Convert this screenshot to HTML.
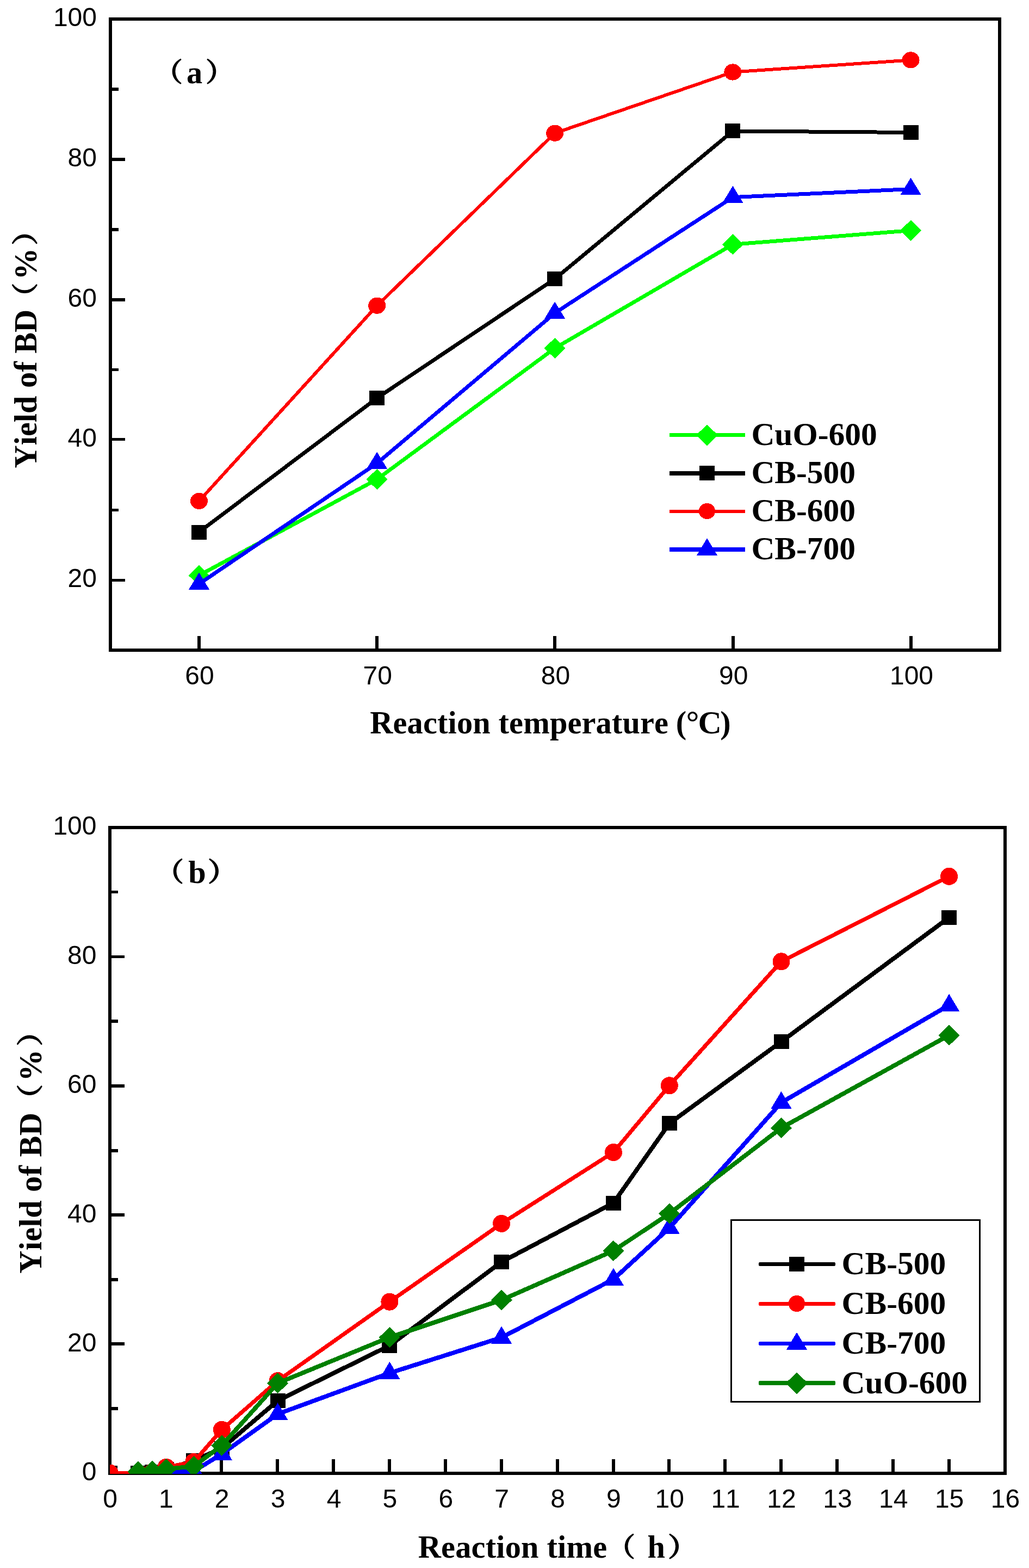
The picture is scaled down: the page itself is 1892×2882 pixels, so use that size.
<!DOCTYPE html>
<html lang="en">
<head>
<meta charset="utf-8">
<title>Yield of BD vs reaction temperature and reaction time</title>
<style>
html,body{margin:0;padding:0;background:#fff;}
body{width:1892px;height:2882px;overflow:hidden;}
svg{display:block;}
text{fill:#000;}
.tick{font-family:"Liberation Sans",sans-serif;font-size:48px;font-kerning:none;}
.ttl{font-family:"Liberation Serif",serif;font-weight:bold;font-size:58.33px;font-kerning:none;font-variant-ligatures:none;}
.leg{font-family:"Liberation Serif",serif;font-weight:bold;font-size:59.5px;font-kerning:none;}
.fw{font-family:"Noto Serif CJK SC","Liberation Serif",serif;font-weight:600;font-size:48.3px;letter-spacing:0;stroke:#000;stroke-width:1.3px;stroke-linejoin:round;}
.deg{font-size:60px;}
</style>
</head>
<body>
<svg width="1892" height="2882" viewBox="0 0 1892 2882">
<rect width="1892" height="2882" fill="#fff"/>
<g id="chart-a">
<rect x="203" y="35" width="1635" height="1160" fill="none" stroke="#000" stroke-width="6" shape-rendering="crispEdges"/>
<g shape-rendering="crispEdges" fill="#000">
<rect x="203" y="161" width="15" height="6" rx="1"/>
<rect x="203" y="290" width="27" height="6" rx="1"/>
<rect x="203" y="419" width="15" height="6" rx="1"/>
<rect x="203" y="548" width="27" height="6" rx="1"/>
<rect x="203" y="677" width="15" height="5" rx="1"/>
<rect x="203" y="805" width="27" height="5" rx="1"/>
<rect x="203" y="935" width="15" height="5" rx="1"/>
<rect x="203" y="1064" width="27" height="5" rx="1"/>
<rect x="363" y="1169" width="6" height="26" rx="1.5"/>
<rect x="690" y="1169" width="6" height="26" rx="1.5"/>
<rect x="1017" y="1169" width="6" height="26" rx="1.5"/>
<rect x="1345" y="1169" width="6" height="26" rx="1.5"/>
<rect x="1672" y="1169" width="6" height="26" rx="1.5"/>
</g>
<g class="tick" text-anchor="end">
<text x="178" y="1079.1">20</text>
<text x="178" y="821.3">40</text>
<text x="178" y="563.6">60</text>
<text x="178" y="305.8">80</text>
<text x="178" y="48.0">100</text>
</g>
<g class="tick" text-anchor="middle">
<text x="367.0" y="1257.5">60</text>
<text x="694.2" y="1257.5">70</text>
<text x="1021.5" y="1257.5">80</text>
<text x="1348.8" y="1257.5">90</text>
<text x="1676.0" y="1257.5">100</text>
</g>
<g shape-rendering="crispEdges">
<polyline points="366.0,1057.6 693.2,881.0 1020.2,640.0 1347.4,449.3 1674.6,423.6" fill="none" stroke="#00ff00" stroke-width="7" stroke-linejoin="round"/>
<polygon points="346.5,1057.6 366.0,1038.6 385.5,1057.6 366.0,1076.6" fill="#00ff00"/>
<polygon points="673.7,881.0 693.2,862.0 712.7,881.0 693.2,900.0" fill="#00ff00"/>
<polygon points="1000.7,640.0 1020.2,621.0 1039.7,640.0 1020.2,659.0" fill="#00ff00"/>
<polygon points="1327.9,449.3 1347.4,430.3 1366.9,449.3 1347.4,468.3" fill="#00ff00"/>
<polygon points="1655.1,423.6 1674.6,404.6 1694.1,423.6 1674.6,442.6" fill="#00ff00"/>
<polyline points="366.0,978.0 693.2,731.6 1020.2,512.6 1347.4,240.9 1674.6,243.5" fill="none" stroke="#000000" stroke-width="7" stroke-linejoin="round"/>
<rect x="352.0" y="964.5" width="28" height="27" fill="#000000"/>
<rect x="679.2" y="718.1" width="28" height="27" fill="#000000"/>
<rect x="1006.2" y="499.1" width="28" height="27" fill="#000000"/>
<rect x="1333.4" y="227.4" width="28" height="27" fill="#000000"/>
<rect x="1660.6" y="230.0" width="28" height="27" fill="#000000"/>
<polyline points="366.0,920.9 693.2,561.7 1020.2,244.7 1347.4,132.5 1674.6,110.4" fill="none" stroke="#ff0000" stroke-width="6" stroke-linejoin="round"/>
<ellipse cx="366.0" cy="920.9" rx="16" ry="15.1" fill="#ff0000"/>
<ellipse cx="693.2" cy="561.7" rx="16" ry="15.1" fill="#ff0000"/>
<ellipse cx="1020.2" cy="244.7" rx="16" ry="15.1" fill="#ff0000"/>
<ellipse cx="1347.4" cy="132.5" rx="16" ry="15.1" fill="#ff0000"/>
<ellipse cx="1674.6" cy="110.4" rx="16" ry="15.1" fill="#ff0000"/>
<polyline points="366.0,1073.3 693.2,851.5 1020.2,575.4 1347.4,362.6 1674.6,347.5" fill="none" stroke="#0000ff" stroke-width="7" stroke-linejoin="round"/>
<polygon points="347.0,1083.6 366.0,1052.3 385.0,1083.6" fill="#0000ff"/>
<polygon points="674.2,861.8 693.2,830.5 712.2,861.8" fill="#0000ff"/>
<polygon points="1001.2,585.7 1020.2,554.4 1039.2,585.7" fill="#0000ff"/>
<polygon points="1328.4,372.9 1347.4,341.6 1366.4,372.9" fill="#0000ff"/>
<polygon points="1655.6,357.8 1674.6,326.5 1693.6,357.8" fill="#0000ff"/>
</g>
<g shape-rendering="crispEdges">
<rect x="1231" y="796.0" width="139" height="7" rx="1.5" fill="#00ff00"/>
<rect x="1231" y="866.0" width="139" height="8" rx="1.5" fill="#000000"/>
<rect x="1231" y="937.0" width="139" height="6" rx="1.5" fill="#ff0000"/>
<rect x="1231" y="1006.0" width="139" height="8" rx="1.5" fill="#0000ff"/>
<polygon points="1279.7,799.9 1300.0,780.7 1320.3,799.9 1300.0,819.1" fill="#00ff00"/>
<rect x="1286.0" y="856.0" width="28" height="27" fill="#000000"/>
<ellipse cx="1300.0" cy="939.5" rx="15.1" ry="14.5" fill="#ff0000"/>
<polygon points="1280.9,1020.9 1300.0,989.1 1319.1,1020.9" fill="#0000ff"/>
</g>
<g class="leg">
<text x="1381.4" y="818.4">CuO-600</text>
<text x="1381.4" y="888.3">CB-500</text>
<text x="1381.4" y="958.4">CB-600</text>
<text x="1381.4" y="1028.3">CB-700</text>
</g>
<g class="ttl">
<text x="680.3" y="1348" style="letter-spacing:0.15px">Reaction temperature <tspan x="1242.8">(</tspan><tspan class="deg" x="1261.6">°</tspan><tspan class="deg" x="1283.6">C</tspan><tspan x="1324.3">)</tspan></text>
<g transform="translate(67 859.8) rotate(-90)">
<text x="-0.6" y="0">Yield of BD</text>
<text class="fw" transform="translate(287.83 -3.98) scale(1.080 1)">（</text>
<text x="345.5" y="0">%</text>
<text class="fw" transform="translate(408.78 -3.98) scale(1.146 1)">）</text>
</g>
<text class="fw" transform="translate(283.55 148.72) scale(1.086 1)">（</text>
<text x="343" y="152.7">a</text>
<text class="fw" transform="translate(377.98 148.72) scale(1.086 1)">）</text>
</g>
</g>
<g id="chart-b">
<rect x="202" y="1521" width="1646" height="1187" fill="none" stroke="#000" stroke-width="6" shape-rendering="crispEdges"/>
<g shape-rendering="crispEdges" fill="#000">
<rect x="202" y="1637" width="15" height="5" rx="1"/>
<rect x="202" y="1756" width="27" height="5" rx="1"/>
<rect x="202" y="1874" width="15" height="6" rx="1"/>
<rect x="202" y="1993" width="27" height="6" rx="1"/>
<rect x="202" y="2112" width="15" height="6" rx="1"/>
<rect x="202" y="2230" width="27" height="6" rx="1"/>
<rect x="202" y="2349" width="15" height="6" rx="1"/>
<rect x="202" y="2467" width="27" height="6" rx="1"/>
<rect x="202" y="2586" width="15" height="6" rx="1"/>
<rect x="302" y="2682" width="6" height="26" rx="1.5"/>
<rect x="404" y="2682" width="6" height="26" rx="1.5"/>
<rect x="507" y="2682" width="6" height="26" rx="1.5"/>
<rect x="610" y="2682" width="6" height="26" rx="1.5"/>
<rect x="713" y="2682" width="6" height="26" rx="1.5"/>
<rect x="816" y="2682" width="6" height="26" rx="1.5"/>
<rect x="919" y="2682" width="6" height="26" rx="1.5"/>
<rect x="1022" y="2682" width="6" height="26" rx="1.5"/>
<rect x="1125" y="2682" width="6" height="26" rx="1.5"/>
<rect x="1227" y="2682" width="6" height="26" rx="1.5"/>
<rect x="1330" y="2682" width="6" height="26" rx="1.5"/>
<rect x="1433" y="2682" width="6" height="26" rx="1.5"/>
<rect x="1536" y="2682" width="6" height="26" rx="1.5"/>
<rect x="1639" y="2682" width="6" height="26" rx="1.5"/>
<rect x="1742" y="2682" width="6" height="26" rx="1.5"/>
</g>
<g class="tick" text-anchor="end">
<text x="177.5" y="2721.3">0</text>
<text x="177.5" y="2483.9">20</text>
<text x="177.5" y="2246.5">40</text>
<text x="177.5" y="2009.1">60</text>
<text x="177.5" y="1771.7">80</text>
<text x="177.5" y="1534.3">100</text>
</g>
<g class="tick" text-anchor="middle">
<text x="202.5" y="2771">0</text>
<text x="305.4" y="2771">1</text>
<text x="408.2" y="2771">2</text>
<text x="511.1" y="2771">3</text>
<text x="614.0" y="2771">4</text>
<text x="716.9" y="2771">5</text>
<text x="819.8" y="2771">6</text>
<text x="922.6" y="2771">7</text>
<text x="1025.5" y="2771">8</text>
<text x="1128.4" y="2771">9</text>
<text x="1231.2" y="2771">10</text>
<text x="1334.1" y="2771">11</text>
<text x="1437.0" y="2771">12</text>
<text x="1539.9" y="2771">13</text>
<text x="1642.8" y="2771">14</text>
<text x="1745.6" y="2771">15</text>
<text x="1848.5" y="2771">16</text>
</g>
<clipPath id="cb"><rect x="202" y="1521" width="1646" height="1188"/></clipPath>
<g shape-rendering="crispEdges" clip-path="url(#cb)">
<polyline points="202.0,2707.7 254.1,2707.7 279.9,2705.6 305.6,2700.6 356.3,2684.6 407.8,2662.0 510.6,2574.4 716.4,2473.2 922.1,2319.5 1127.9,2211.1 1230.8,2064.8 1436.5,1914.6 1745.1,1686.4" fill="none" stroke="#000000" stroke-width="8" stroke-linejoin="round"/>
<rect x="188.0" y="2694.2" width="28" height="27" fill="#000000"/>
<rect x="240.1" y="2694.2" width="28" height="27" fill="#000000"/>
<rect x="265.9" y="2692.1" width="28" height="27" fill="#000000"/>
<rect x="291.6" y="2687.1" width="28" height="27" fill="#000000"/>
<rect x="342.3" y="2671.1" width="28" height="27" fill="#000000"/>
<rect x="393.8" y="2648.5" width="28" height="27" fill="#000000"/>
<rect x="496.6" y="2560.9" width="28" height="27" fill="#000000"/>
<rect x="702.4" y="2459.7" width="28" height="27" fill="#000000"/>
<rect x="908.1" y="2306.0" width="28" height="27" fill="#000000"/>
<rect x="1113.9" y="2197.6" width="28" height="27" fill="#000000"/>
<rect x="1216.8" y="2051.3" width="28" height="27" fill="#000000"/>
<rect x="1422.5" y="1901.1" width="28" height="27" fill="#000000"/>
<rect x="1731.1" y="1672.9" width="28" height="27" fill="#000000"/>
<polyline points="202.0,2707.5 254.1,2707.5 279.9,2706.0 305.6,2696.8 356.3,2687.0 407.8,2627.8 510.6,2538.0 716.4,2392.7 922.1,2248.9 1127.9,2118.0 1230.8,1995.3 1436.5,1767.3 1745.1,1610.8" fill="none" stroke="#ff0000" stroke-width="7.3" stroke-linejoin="round"/>
<ellipse cx="202.0" cy="2707.5" rx="16" ry="16.0" fill="#ff0000"/>
<ellipse cx="254.1" cy="2707.5" rx="16" ry="16.0" fill="#ff0000"/>
<ellipse cx="279.9" cy="2706.0" rx="16" ry="16.0" fill="#ff0000"/>
<ellipse cx="305.6" cy="2696.8" rx="16" ry="16.0" fill="#ff0000"/>
<ellipse cx="356.3" cy="2687.0" rx="16" ry="16.0" fill="#ff0000"/>
<ellipse cx="407.8" cy="2627.8" rx="16" ry="16.0" fill="#ff0000"/>
<ellipse cx="510.6" cy="2538.0" rx="16" ry="16.0" fill="#ff0000"/>
<ellipse cx="716.4" cy="2392.7" rx="16" ry="16.0" fill="#ff0000"/>
<ellipse cx="922.1" cy="2248.9" rx="16" ry="16.0" fill="#ff0000"/>
<ellipse cx="1127.9" cy="2118.0" rx="16" ry="16.0" fill="#ff0000"/>
<ellipse cx="1230.8" cy="1995.3" rx="16" ry="16.0" fill="#ff0000"/>
<ellipse cx="1436.5" cy="1767.3" rx="16" ry="16.0" fill="#ff0000"/>
<ellipse cx="1745.1" cy="1610.8" rx="16" ry="16.0" fill="#ff0000"/>
<polyline points="254.1,2707.5 279.9,2707.0 305.6,2705.5 356.3,2704.2 407.8,2672.4 510.6,2599.0 716.4,2523.6 922.1,2458.4 1127.9,2351.4 1230.8,2257.0 1436.5,2026.5 1745.1,1847.5" fill="none" stroke="#0000ff" stroke-width="8" stroke-linejoin="round"/>
<polygon points="235.1,2718.8 254.1,2686.8 273.1,2718.8" fill="#0000ff"/>
<polygon points="260.9,2718.3 279.9,2686.3 298.9,2718.3" fill="#0000ff"/>
<polygon points="286.6,2716.8 305.6,2684.8 324.6,2716.8" fill="#0000ff"/>
<polygon points="337.3,2715.5 356.3,2683.5 375.3,2715.5" fill="#0000ff"/>
<polygon points="388.8,2683.7 407.8,2651.7 426.8,2683.7" fill="#0000ff"/>
<polygon points="491.6,2610.3 510.6,2578.3 529.6,2610.3" fill="#0000ff"/>
<polygon points="697.4,2534.9 716.4,2502.9 735.4,2534.9" fill="#0000ff"/>
<polygon points="903.1,2469.7 922.1,2437.7 941.1,2469.7" fill="#0000ff"/>
<polygon points="1108.9,2362.7 1127.9,2330.7 1146.9,2362.7" fill="#0000ff"/>
<polygon points="1211.8,2268.3 1230.8,2236.3 1249.8,2268.3" fill="#0000ff"/>
<polygon points="1417.5,2037.8 1436.5,2005.8 1455.5,2037.8" fill="#0000ff"/>
<polygon points="1726.1,1858.8 1745.1,1826.8 1764.1,1858.8" fill="#0000ff"/>
<polyline points="254.1,2704.8 279.9,2703.8 305.6,2700.0 356.3,2695.2 407.8,2656.8 510.6,2542.2 716.4,2458.0 922.1,2389.5 1127.9,2299.0 1230.8,2230.6 1436.5,2073.1 1745.1,1902.8" fill="none" stroke="#008000" stroke-width="8" stroke-linejoin="round"/>
<polygon points="234.6,2704.8 254.1,2685.8 273.6,2704.8 254.1,2723.8" fill="#008000"/>
<polygon points="260.4,2703.8 279.9,2684.8 299.4,2703.8 279.9,2722.8" fill="#008000"/>
<polygon points="286.1,2700.0 305.6,2681.0 325.1,2700.0 305.6,2719.0" fill="#008000"/>
<polygon points="336.8,2695.2 356.3,2676.2 375.8,2695.2 356.3,2714.2" fill="#008000"/>
<polygon points="388.2,2656.8 407.8,2637.8 427.2,2656.8 407.8,2675.8" fill="#008000"/>
<polygon points="491.1,2542.2 510.6,2523.2 530.1,2542.2 510.6,2561.2" fill="#008000"/>
<polygon points="696.9,2458.0 716.4,2439.0 735.9,2458.0 716.4,2477.0" fill="#008000"/>
<polygon points="902.6,2389.5 922.1,2370.5 941.6,2389.5 922.1,2408.5" fill="#008000"/>
<polygon points="1108.4,2299.0 1127.9,2280.0 1147.4,2299.0 1127.9,2318.0" fill="#008000"/>
<polygon points="1211.2,2230.6 1230.8,2211.6 1250.2,2230.6 1230.8,2249.6" fill="#008000"/>
<polygon points="1417.0,2073.1 1436.5,2054.1 1456.0,2073.1 1436.5,2092.1" fill="#008000"/>
<polygon points="1725.6,1902.8 1745.1,1883.8 1764.6,1902.8 1745.1,1921.8" fill="#008000"/>
</g>
<rect x="1344.5" y="2242.5" width="457" height="334" fill="#fff" stroke="#000" stroke-width="3" shape-rendering="crispEdges"/>
<g shape-rendering="crispEdges">
<rect x="1395" y="2320.0" width="141" height="7" rx="3" fill="#000000"/>
<rect x="1395" y="2393.0" width="141" height="7" rx="3" fill="#ff0000"/>
<rect x="1395" y="2466.0" width="141" height="7" rx="3" fill="#0000ff"/>
<rect x="1395" y="2538.0" width="141" height="8" rx="3" fill="#008000"/>
<rect x="1451.0" y="2310.0" width="28" height="27" fill="#000000"/>
<ellipse cx="1465.0" cy="2396.0" rx="15.2" ry="15.1" fill="#ff0000"/>
<polygon points="1445.7,2480.9 1465.0,2448.8 1484.3,2480.9" fill="#0000ff"/>
<polygon points="1444.2,2542.4 1465.0,2522.8 1485.8,2542.4 1465.0,2562.0" fill="#008000"/>
</g>
<g class="leg">
<text x="1547.6" y="2342.2">CB-500</text>
<text x="1547.6" y="2415.0">CB-600</text>
<text x="1547.6" y="2488.2">CB-700</text>
<text x="1547.6" y="2561.2">CuO-600</text>
</g>
<g class="ttl">
<text x="768.8" y="2863" style="letter-spacing:0.2px">Reaction time</text>
<text class="fw" transform="translate(1115.83 2859.72) scale(1.080 1)">（</text>
<text x="1190.6" y="2863">h</text>
<text class="fw" transform="translate(1227.78 2859.72) scale(1.146 1)">）</text>
<g transform="translate(76 2340.2) rotate(-90)">
<text x="-0.6" y="0" style="letter-spacing:0.4px">Yield of BD</text>
<text class="fw" transform="translate(291.90 -3.98) scale(1.152 1)">（</text>
<text x="352.9" y="0">%</text>
<text class="fw" transform="translate(417.19 -3.98) scale(1.140 1)">）</text>
</g>
<text class="fw" transform="translate(285.55 1618.72) scale(1.086 1)">（</text>
<text x="346.2" y="1622.7">b</text>
<text class="fw" transform="translate(381.79 1618.72) scale(1.140 1)">）</text>
</g>
</g>
</svg>
</body>
</html>
